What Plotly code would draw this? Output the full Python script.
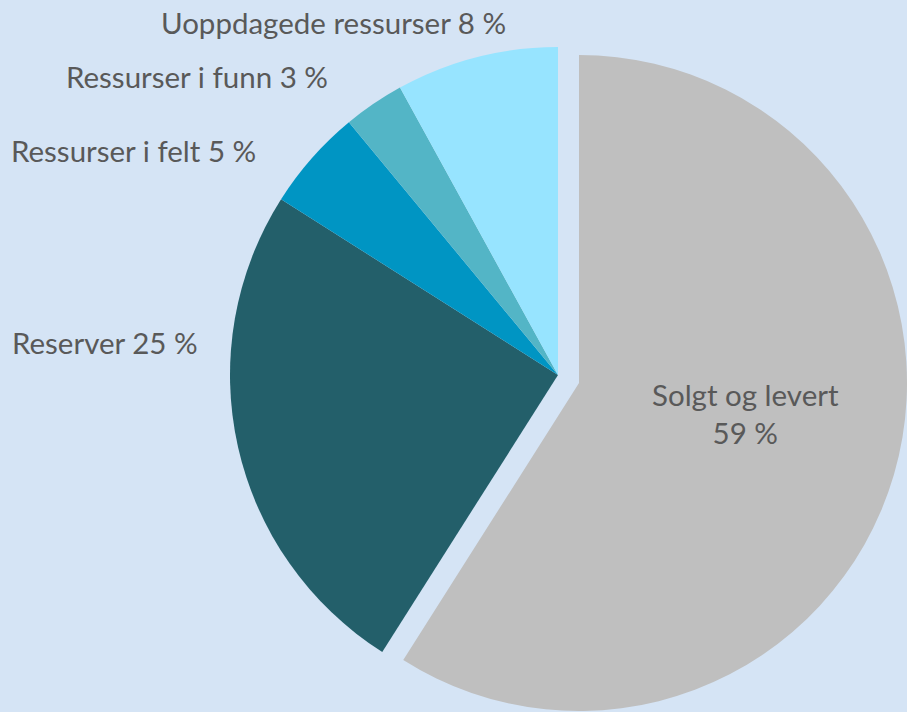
import plotly.graph_objects as go

labels = ["Solgt og levert", "Reserver", "Ressurser i felt", "Ressurser i funn", "Uoppdagede ressurser"]
values = [59, 25, 5, 3, 8]
colors = ["#BFBFBF", "#235F6A", "#0095C3", "#53B5C6", "#97E4FF"]

W, H = 907, 712
BG = "#D5E4F5"
TXT = "#595959"
FONT = "Lato"

# trace for the four unexploded slices
base_colors = ["rgba(0,0,0,0)"] + colors[1:]
# trace for the exploded slice
pulled_colors = [colors[0]] + ["rgba(0,0,0,0)"] * (len(values) - 1)

fig = go.Figure()
fig.add_trace(go.Pie(
    labels=labels, values=values, sort=False, direction="clockwise", rotation=0,
    marker=dict(colors=base_colors, line=dict(width=0)),
    textinfo="none", showlegend=False,
    domain=dict(x=[230 / W, 886 / W], y=[9 / H, 665 / H]),
))
fig.add_trace(go.Pie(
    labels=labels, values=values, sort=False, direction="clockwise", rotation=0,
    marker=dict(colors=pulled_colors, line=dict(width=0)),
    textinfo="none", showlegend=False,
    domain=dict(x=[251 / W, 1.0], y=[1 / H, 657 / H]),
))

# label placement (pixel anchors converted to paper coords)
label_pos = [(745, 413, "center"), (200, 343, "right"), (258, 151, "right"), (330, 76, "right"), (508, 22, "right")]
for lab, val, (px, py, xa) in zip(labels, values, label_pos):
    txt = f"{lab}<br>{val} %" if xa == "center" else f"{lab} {val} %"
    fig.add_annotation(
        x=px / W, y=1 - py / H, xref="paper", yref="paper",
        xanchor=xa, yanchor="middle", text=txt, showarrow=False,
        font=dict(family=FONT, size=29.5, color=TXT), align="center",
    )

fig.update_layout(
    width=W, height=H, margin=dict(l=0, r=0, t=0, b=0),
    paper_bgcolor=BG, plot_bgcolor=BG,
)
fig.write_html(
    "out.html",
    config={"displayModeBar": False},
    post_script="document.body.style.margin='0';document.body.style.overflow='hidden';",
)
